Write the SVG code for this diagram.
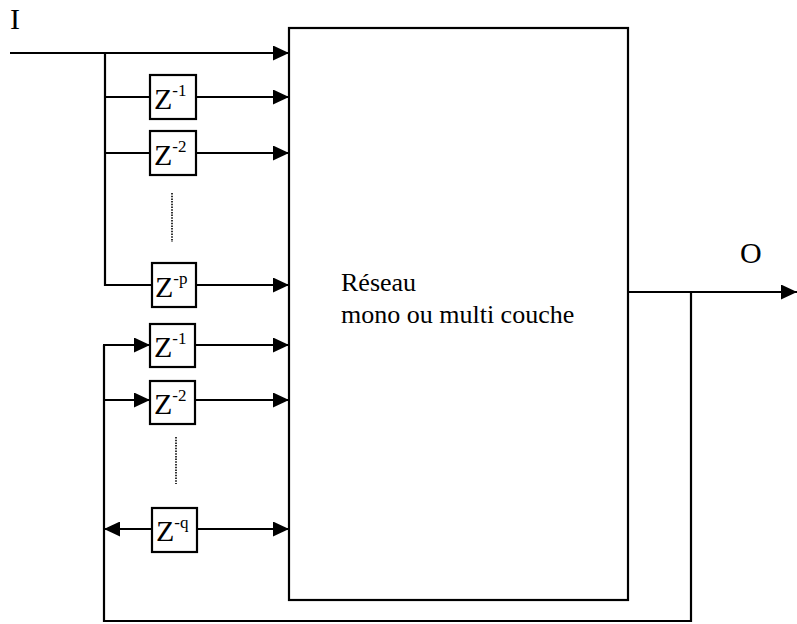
<svg xmlns="http://www.w3.org/2000/svg" width="797" height="624" viewBox="0 0 797 624">
<defs>
<style>
.ln{stroke:#000;stroke-width:2.2;fill:none}
.dot{stroke:#000;stroke-width:1.6;stroke-dasharray:1.5 1.2;fill:none}
.bx{stroke:#000;stroke-width:2.2;fill:#fff}
.t{font-family:"Liberation Serif","Times New Roman",serif;fill:#000}
.z{font-family:"Liberation Serif","Times New Roman",serif;font-size:30px;fill:#000}
.sup{font-size:17px}
</style>
<marker id="ah" markerUnits="userSpaceOnUse" markerWidth="17" markerHeight="15" refX="16" refY="7.5" orient="auto">
<path d="M0,0 L16,7.5 L0,15 Z" fill="#000"/>
</marker>
</defs>
<rect width="797" height="624" fill="#fff"/>

<g id="connectors">
<line class="ln" x1="10" y1="53" x2="289" y2="53" marker-end="url(#ah)"/>
<polyline class="ln" points="105,53 105,285 152,285"/>
<line class="ln" x1="105" y1="97" x2="150" y2="97"/>
<line class="ln" x1="105" y1="153" x2="150" y2="153"/>
<line class="ln" x1="196" y1="97" x2="289" y2="97" marker-end="url(#ah)"/>
<line class="ln" x1="196" y1="153" x2="289" y2="153" marker-end="url(#ah)"/>
<line class="ln" x1="196" y1="285" x2="289" y2="285" marker-end="url(#ah)"/>
<line class="dot" x1="172" y1="193" x2="172" y2="242"/>

<line class="ln" x1="628" y1="292" x2="797" y2="292" marker-end="url(#ah)"/>
<polyline class="ln" points="691,292 691,621 104,621 104,345"/>
<line class="ln" x1="103" y1="345" x2="150" y2="345" marker-end="url(#ah)"/>
<line class="ln" x1="104" y1="400" x2="150" y2="400" marker-end="url(#ah)"/>
<line class="ln" x1="152" y1="529" x2="104" y2="529" marker-end="url(#ah)"/>
<line class="ln" x1="195" y1="345" x2="289" y2="345" marker-end="url(#ah)"/>
<line class="ln" x1="195" y1="400" x2="289" y2="400" marker-end="url(#ah)"/>
<line class="ln" x1="197" y1="529" x2="289" y2="529" marker-end="url(#ah)"/>
<line class="dot" x1="176" y1="437" x2="176" y2="484"/>
</g>

<g id="reseau">
<rect class="ln" x="289" y="28" width="339" height="572"/>
<text class="t" x="341" y="291" font-size="26">Réseau</text>
<text class="t" x="341" y="323" font-size="26">mono ou multi couche</text>
</g>

<g id="label-I"><text class="t" x="10" y="29" font-size="30">I</text></g>
<g id="label-O"><text class="t" x="740" y="263" font-size="30">O</text></g>

<g id="z1a">
<rect class="bx" x="150" y="75" width="46" height="44"/>
<text class="z" x="154" y="109">Z<tspan class="sup" dy="-13">-1</tspan></text>
</g>
<g id="z2a">
<rect class="bx" x="150" y="131" width="46" height="44"/>
<text class="z" x="154" y="165">Z<tspan class="sup" dy="-13">-2</tspan></text>
</g>
<g id="zpa">
<rect class="bx" x="152" y="263" width="44" height="44"/>
<text class="z" x="155" y="297">Z<tspan class="sup" dy="-13">-p</tspan></text>
</g>
<g id="z1b">
<rect class="bx" x="150" y="324" width="45" height="43"/>
<text class="z" x="154" y="357">Z<tspan class="sup" dy="-13">-1</tspan></text>
</g>
<g id="z2b">
<rect class="bx" x="150" y="381" width="45" height="43"/>
<text class="z" x="154" y="414">Z<tspan class="sup" dy="-13">-2</tspan></text>
</g>
<g id="zqb">
<rect class="bx" x="152" y="508" width="45" height="44"/>
<text class="z" x="156" y="541">Z<tspan class="sup" dy="-13">-q</tspan></text>
</g>
</svg>
